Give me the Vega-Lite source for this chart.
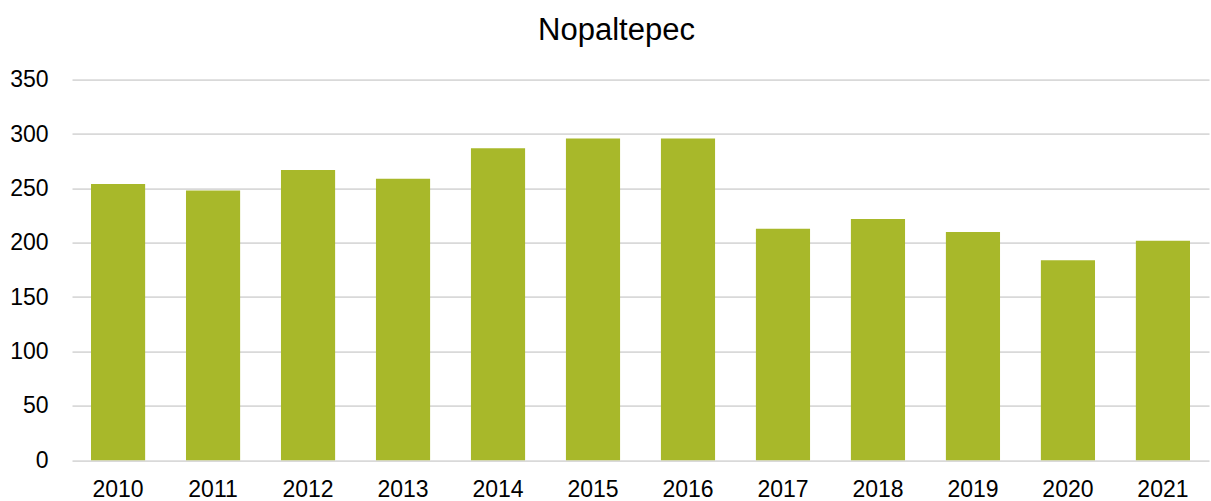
{
  "$schema": "https://vega.github.io/schema/vega-lite/v6.json",
  "autosize": {"type": "none"},
  "width": 1137,
  "height": 380.6,
  "padding": {"left": 72, "top": 79.7, "right": 2, "bottom": 40.7},
  "background": "white",
  "title": {
    "text": "Nopaltepec",
    "font": "Liberation Sans",
    "fontSize": 31,
    "fontWeight": "normal",
    "color": "#000000",
    "anchor": "middle",
    "dx": -24,
    "baseline": "alphabetic",
    "offset": -2.5
  },
  "data": {
    "values": [
      {"year": "2010", "value": 254},
      {"year": "2011", "value": 248},
      {"year": "2012", "value": 267},
      {"year": "2013", "value": 259},
      {"year": "2014", "value": 287},
      {"year": "2015", "value": 296},
      {"year": "2016", "value": 296},
      {"year": "2017", "value": 213},
      {"year": "2018", "value": 222},
      {"year": "2019", "value": 210},
      {"year": "2020", "value": 184},
      {"year": "2021", "value": 202}
    ]
  },
  "mark": {"type": "bar", "color": "#A8B82A"},
  "encoding": {
    "x": {
      "field": "year",
      "type": "ordinal",
      "title": null,
      "scale": {"paddingInner": 0.43, "paddingOuter": 0.2},
      "axis": {
        "labelAngle": 0,
        "labelFont": "Liberation Sans",
        "labelFontSize": 23,
        "labelColor": "#000000",
        "labelPadding": 18,
        "ticks": false,
        "domain": false,
        "grid": false
      }
    },
    "y": {
      "field": "value",
      "type": "quantitative",
      "title": null,
      "scale": {"domain": [0, 350], "nice": false},
      "axis": {
        "values": [0, 50, 100, 150, 200, 250, 300, 350],
        "labelFont": "Liberation Sans",
        "labelFontSize": 23,
        "labelColor": "#000000",
        "labelPadding": 24,
        "ticks": false,
        "domain": false,
        "grid": true,
        "gridColor": "#D9D9D9",
        "gridWidth": 1.8
      }
    }
  },
  "config": {"view": {"stroke": null}}
}
